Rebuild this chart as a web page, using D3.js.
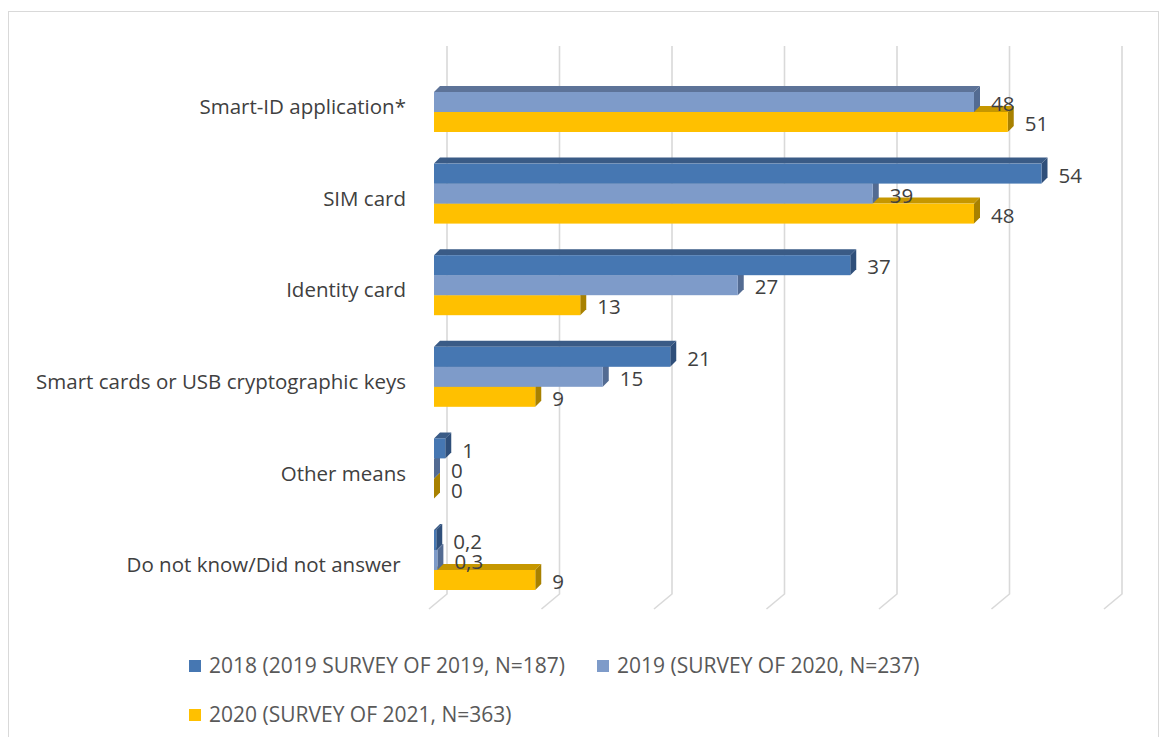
<!DOCTYPE html>
<html>
<head>
<meta charset="utf-8">
<script src="https://cdn.jsdelivr.net/npm/d3@7/dist/d3.min.js"></script>
<style>
  html, body { margin: 0; padding: 0; background: #fff; }
  svg { display: block; }
  text { font-family: "Open Sans", "Noto Sans", sans-serif; }
</style>
</head>
<body>
<svg id="chart" width="1160" height="737"></svg>
<script>
// Means of e-identification used, by survey year (%)
const categories = [
  "Smart-ID application*",
  "SIM card",
  "Identity card",
  "Smart cards or USB cryptographic keys",
  "Other means",
  "Do not know/Did not answer "
];
const seriesNames = [
  "2018 (2019 SURVEY OF 2019, N=187)",
  "2019 (SURVEY OF 2020, N=237)",
  "2020 (SURVEY OF 2021, N=363)"
];
const values2018 = [null, 54, 37, 21, 1, 0.2];
const values2019 = [48, 39, 27, 15, 0, 0.3];
const values2020 = [51, 48, 13, 9, 0, 9];
const gridTicks = [0, 10, 20, 30, 40, 50, 60];

const seriesValues = [values2018, values2019, values2020];
const palette = [
  { front: "#4677b2", top: "#3a5b86", side: "#2f4f7a" },
  { front: "#7e9bc9", top: "#5d7398", side: "#536b92" },
  { front: "#ffc000", top: "#c69700", side: "#a88100" }
];

const svg = d3.select("#chart");
const depthX = 6, depthY = 6;          // bar depth offset
const backDx = 13;                      // back wall offset of the grid
const floorDx = -18, floorDy = 15;      // floor edge of the grid lines
const labelSize = 20.5, legendSize = 21;

const x = d3.scaleLinear().domain([0, 60]).range([434, 1109]);
const y = d3.scaleBand().domain(categories)
  .range([56.2, 605.8]).paddingInner(0.345).paddingOuter(0.1725);
const ySeries = d3.scaleBand().domain(d3.range(seriesNames.length))
  .range([0, y.bandwidth()]);

// Outer frame
svg.append("rect")
  .attr("x", 8.5).attr("y", 11.5).attr("width", 1150).attr("height", 740)
  .attr("fill", "none").attr("stroke", "#d9d9d9").attr("stroke-width", 1);

// Grid lines on back wall with their floor ends
const gridTop = 46, gridBottom = 594;
svg.append("g").selectAll("path").data(gridTicks).join("path")
  .attr("d", t => {
    const gx = x(t) + backDx;
    return `M${gx},${gridTop}L${gx},${gridBottom}L${gx + floorDx},${gridBottom + floorDy}`;
  })
  .attr("fill", "none").attr("stroke", "#d9d9d9").attr("stroke-width", 1.6);

// Bars
const bars = [];
categories.forEach((c, ci) => {
  seriesValues.forEach((vals, si) => {
    if (vals[ci] !== null) bars.push({ cat: c, si, v: vals[ci] });
  });
});
// lower series first so upper bars overlap their top faces
bars.sort((a, b) => b.si - a.si);

const barG = svg.append("g");
bars.forEach(d => {
  const y0 = y(d.cat) + ySeries(d.si);
  const h = ySeries.bandwidth();
  const x0 = x(0), x1 = x(d.v);
  const col = palette[d.si];
  const g = barG.append("g");
  g.append("polygon")
    .attr("points", [[x0, y0], [x0 + depthX, y0 - depthY], [x1 + depthX, y0 - depthY], [x1, y0]].join(" "))
    .attr("fill", col.top);
  g.append("polygon")
    .attr("points", [[x1, y0], [x1 + depthX, y0 - depthY], [x1 + depthX, y0 + h - depthY], [x1, y0 + h]].join(" "))
    .attr("fill", col.side);
  g.append("rect")
    .attr("x", x0).attr("y", y0).attr("width", Math.max(0, x1 - x0)).attr("height", h)
    .attr("fill", col.front);
});

// Value labels
const fmt = v => String(v).replace(".", ",");
svg.append("g").selectAll("text").data(bars).join("text")
  .attr("x", d => x(d.v) + 17)
  .attr("y", d => y(d.cat) + ySeries(d.si) + ySeries.bandwidth() / 2 + 2)
  .attr("dy", "0.35em")
  .attr("fill", "#404040").attr("font-size", labelSize)
  .text(d => fmt(d.v));

// Category labels
svg.append("g").selectAll("text").data(categories).join("text")
  .attr("x", 406)
  .attr("y", c => y(c) + y.bandwidth() / 2 + 5)
  .attr("dy", "0.35em")
  .attr("text-anchor", "end")
  .style("white-space", "pre")
  .attr("fill", "#404040").attr("font-size", labelSize)
  .text(c => c);

// Legend
const legendPos = [[189, 666], [597, 666], [189, 715]];
const legend = svg.append("g").selectAll("g").data(seriesNames).join("g")
  .attr("transform", (d, i) => `translate(${legendPos[i][0]},${legendPos[i][1]})`);
legend.append("rect")
  .attr("x", 0).attr("y", -6).attr("width", 12).attr("height", 12)
  .attr("fill", (d, i) => palette[i].front);
legend.append("text")
  .attr("x", 20).attr("y", 0).attr("dy", "0.35em")
  .attr("fill", "#595959").attr("font-size", legendSize)
  .text(d => d);
</script>
</body>
</html>
